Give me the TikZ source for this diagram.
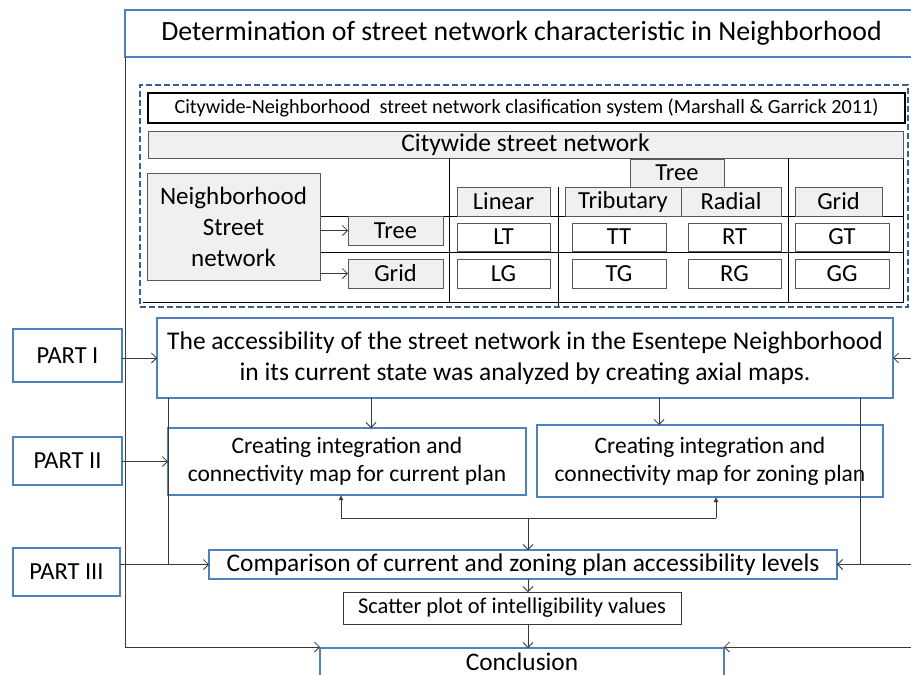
\documentclass[tikz,border=0pt]{standalone}
\usepackage{fontspec}
\setmainfont{Carlito}
\usetikzlibrary{arrows.meta}
\definecolor{frameblue}{HTML}{4F81BD}
\definecolor{dashblue}{HTML}{3B5F92}
\definecolor{cellgray}{HTML}{F0F0F0}
\definecolor{rulegray}{HTML}{595959}
\definecolor{linegray}{HTML}{3A3A3A}

% \cbox{style}{name}{x1}{y1}{x2}{y2}{text}: a node filling the given corners
\newcommand\cbox[7]{%
  \pgfmathsetmacro\bxcx{(#3+#5)/2}%
  \pgfmathsetmacro\bxcy{(#4+#6)/2}%
  \pgfmathsetmacro\bxw{#5-#3}%
  \pgfmathsetmacro\bxh{#6-#4}%
  \node[#1, minimum width=\bxw pt, minimum height=\bxh pt] (#2) at (\bxcx,\bxcy) {#7};}
\newcommand\fs[2]{\fontsize{#1}{#2}\selectfont}

\begin{document}
\begin{tikzpicture}[x=1pt,y=-1pt,
  box/.style={inner sep=0pt, outer sep=0pt, align=center, text=black},
  bluebox/.style={box, draw=frameblue, line width=2pt, fill=white},
  graybox/.style={box, draw=rulegray, line width=0.8pt, fill=cellgray},
  cellbox/.style={box, draw=rulegray, line width=0.8pt, fill=white},
  conn/.style={draw=linegray, line width=0.8pt},
  arr/.style={conn, -{Straight Barb[length=5pt,width=10pt]}},
  uparr/.style={conn, -{Latex[length=5pt,width=5pt]}},
  rule/.style={draw=black, line width=0.7pt},
  cellfont/.style={font=\fs{24.5}{28}},
]
\useasboundingbox (0,0) rectangle (911,675);
\fill[white] (0,0) rectangle (911,675);

% ---- header and classification table ----
\cbox{bluebox, font=\fs{27.8}{32}}{title}{125}{10}{918}{57}{Determination of street network characteristic in Neighborhood}
\cbox{box, draw=dashblue, dash pattern=on 6pt off 3pt, line width=1.6pt}{frame}{140}{85}{908}{307}{}
\cbox{box, draw=black, line width=2.2pt, fill=white, font=\fs{20.2}{23}}{cite}{148}{93}{905}{123}{Citywide-Neighborhood\ \ street network clasification system (Marshall \& Garrick 2011)}
\cbox{graybox, font=\fs{25.5}{29}}{city}{148}{131}{903}{158}{\raisebox{-1pt}{Citywide street network}}

% table rules
\coordinate (r1) at (320,216);
\coordinate (r2) at (320,252);
\coordinate (tr) at (903,158);
\draw[rule] (r1) -- (r1 -| tr);
\draw[rule] (r2) -- (r2 -| tr);
\draw[rule] (143,302) -- (903,302) -- (tr);
\draw[rule] (449,158) -- (449,302);
\draw[rule] (558,187) -- (558,306);
\draw[rule] (788,158) -- (788,302);

\cbox{graybox, font=\fs{25}{31}}{nbh}{147}{173}{320}{280}{Neighborhood\\Street\\network}
\cbox{graybox, cellfont}{treeL}{348}{216}{443}{245}{Tree}
\cbox{graybox, cellfont}{gridL}{348}{259}{443}{288}{Grid}
\draw[arr] (nbh.east |- treeL.west) -- (treeL.west);
\draw[arr] (nbh.east |- gridL.west) -- (gridL.west);

\cbox{graybox, cellfont}{linear}{457}{187}{550}{216}{Linear}
\cbox{graybox, cellfont}{treeH}{630}{159}{724}{187}{Tree}
\cbox{graybox, cellfont}{trib}{565}{187}{681}{216}{Tributary}
\cbox{graybox, cellfont}{radial}{681}{187}{781}{216}{Radial}
\cbox{graybox, cellfont}{gridH}{795}{187}{882}{216}{Grid}

\cbox{cellbox, cellfont}{LT}{457}{223}{550}{251}{LT}
\cbox{cellbox, cellfont}{TT}{572}{223}{666}{251}{TT}
\cbox{cellbox, cellfont}{RT}{688}{223}{781}{251}{RT}
\cbox{cellbox, cellfont}{GT}{795}{223}{889}{251}{GT}
\cbox{cellbox, cellfont}{LG}{457}{259}{550}{288}{LG}
\cbox{cellbox, cellfont}{TG}{572}{259}{666}{288}{TG}
\cbox{cellbox, cellfont}{RG}{688}{259}{781}{288}{RG}
\cbox{cellbox, cellfont}{GG}{795}{259}{889}{288}{GG}

% ---- analysis flow ----
\cbox{bluebox, font=\fs{25.5}{31}}{main}{157}{318}{893}{398}{The accessibility of the street network in the Esentepe Neighborhood\\in its current state was analyzed by creating axial maps.}
\cbox{bluebox, font=\fs{24.5}{28}}{part1}{13}{329}{122}{382}{PART I}
\cbox{bluebox, font=\fs{24.5}{28}}{part2}{13}{437}{122}{485}{PART II}
\cbox{bluebox, font=\fs{24.5}{28}}{part3}{13}{548}{120}{596}{PART III}
\cbox{bluebox, font=\fs{23.5}{28}}{cur}{168}{428}{526}{495}{Creating integration and\\connectivity map for current plan}
\cbox{bluebox, font=\fs{23.5}{28}}{zon}{537}{425}{883}{497}{Creating integration and\\connectivity map for zoning plan}
\cbox{bluebox, font=\fs{25.4}{29}}{cmp}{209}{550}{837}{579}{Comparison of current and zoning plan accessibility levels}
\cbox{box, draw=linegray, line width=0.8pt, fill=white, font=\fs{22.5}{26}}{sct}{343}{592}{681}{624}{Scatter plot of intelligibility values}
\cbox{bluebox, font=\fs{25.3}{29}}{concl}{320}{648}{724}{677}{\raisebox{2pt}{Conclusion}}

% outer left and right feeds
\coordinate (lc) at (125,647);
\coordinate (redge) at (911,0);
\draw[arr] (title.south west) -- (lc) -- (lc -| concl.west);
\draw[arr] (lc -| redge) -- (lc -| concl.east);
\draw[arr] (main.east -| redge) -- (main.east);
\draw[arr] (cmp.east -| redge) -- (cmp.east);

% part inputs
\draw[arr] (part1.east |- main.west) -- (main.west);
\draw[arr] (part2.east |- cur.west) -- (cur.west);
\draw[arr] (part3.east |- cmp.west) -- (cmp.west);

% side rails from the accessibility box
\draw[conn] (main.south -| cur.west) -- (cur.west |- cmp.west);
\coordinate (rr) at (860,0);
\draw[arr] (main.south -| rr) -- (rr |- cmp.east) -- (cmp.east);

% branch to the two map boxes
\coordinate (ax1) at (371,0);
\coordinate (ax2) at (659,0);
\draw[arr] (main.south -| ax1) -- (cur.north -| ax1);
\draw[arr] (main.south -| ax2) -- (zon.north -| ax2);

% merge bus below the map boxes
\coordinate (u1) at (341,518);
\coordinate (u2) at (716,518);
\coordinate (bus) at (528,518);
\draw[conn] (u1) -- (u2);
\draw[uparr] (u1) -- (u1 |- cur.south);
\draw[uparr] (u2) -- (u2 |- zon.south);
\draw[arr] (bus) -- (bus |- cmp.north);
\draw[arr] (cmp.south -| bus) -- (sct.north -| bus);
\draw[arr] (sct.south -| bus) -- (concl.north -| bus);
\end{tikzpicture}
\end{document}
